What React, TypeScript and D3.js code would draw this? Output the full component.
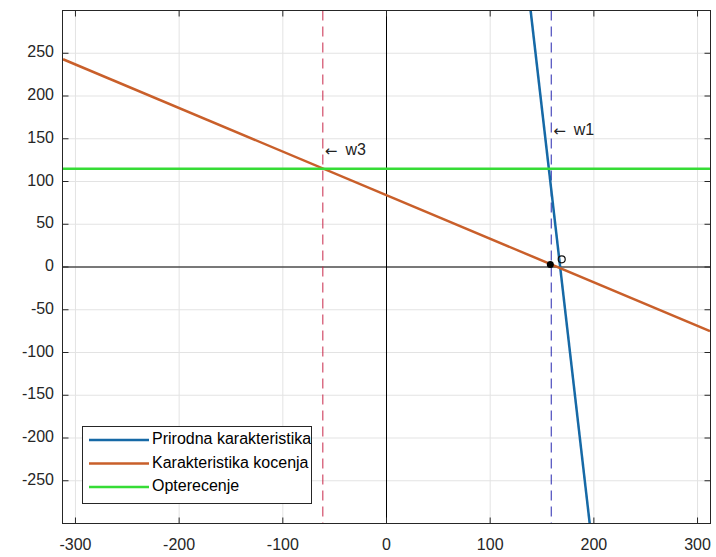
import React from "react";
import * as d3 from "d3";

// values
const xTicks = [-300, -200, -100, 0, 100, 200, 300];
const yTicks = [-250, -200, -150, -100, -50, 0, 50, 100, 150, 200, 250];

const prirodnaX = [139, 196];
const prirodnaY = [300, -300];
const kocenjaX = [-312, 312];
const kocenjaY = [243, -75];
const opterecenjeX = [-312, 312];
const opterecenjeY = [115, 115];

const w1 = 158.9;
const w3 = -61.4;
const workPoint = [158, 3];
const openPoint = [169, 9];

const legendLabels = ["Prirodna karakteristika", "Karakteristika kocenja", "Opterecenje"];
const colors = ["#1669a6", "#c95f2a", "#36dc36"];

const W = 716, H = 557;
const left = 62.5, right = 710.5, top = 10.5, bottom = 523.5;
const font = "'Liberation Sans', Arial, sans-serif";

export default function App() {
  const x = d3.scaleLinear().domain([-312.5, 312.5]).range([left, right]);
  const y = d3.scaleLinear().domain([-300, 300]).range([bottom, top]);

  const line = d3.line<[number, number]>().x((d) => x(d[0])).y((d) => y(d[1]));
  const zip = (xs: number[], ys: number[]) => xs.map((v, i) => [v, ys[i]] as [number, number]);

  const series = [
    zip(prirodnaX, prirodnaY),
    zip(kocenjaX, kocenjaY),
    zip(opterecenjeX, opterecenjeY),
  ];
  const axisColor = "#262626";

  const note = (label: string, px: number, py: number) => (
    <text x={px} y={py} dominantBaseline="middle" fontFamily={font} fontSize={16} fill="#222">
      <tspan fontFamily="'DejaVu Sans', sans-serif" fontSize={15}>{"\u2190"}</tspan>
      <tspan dx={8}>{label}</tspan>
    </text>
  );

  return (
    <svg width={W} height={H} style={{ position: "absolute", left: 0, top: 0, background: "#fff" }}>
      <defs>
        <clipPath id="plot">
          <rect x={left} y={top} width={right - left} height={bottom - top} />
        </clipPath>
      </defs>
      <rect x={left} y={top} width={right - left} height={bottom - top} fill="#fff" />
      {/* grid */}
      {xTicks.map((t) => (
        <line key={"gx" + t} x1={x(t)} x2={x(t)} y1={top} y2={bottom} stroke="#e3e3e3" />
      ))}
      {yTicks.map((t) => (
        <line key={"gy" + t} x1={left} x2={right} y1={y(t)} y2={y(t)} stroke="#e3e3e3" />
      ))}
      <g clipPath="url(#plot)">
        {/* zero lines */}
        <line x1={x(0)} x2={x(0)} y1={top} y2={bottom} stroke="#000" />
        <line x1={left} x2={right} y1={y(0)} y2={y(0)} stroke="#000" />
        {/* vertical markers */}
        <line x1={x(w3)} x2={x(w3)} y1={top} y2={bottom} stroke="#c8284a" strokeDasharray="10,6" />
        <line x1={x(w1)} x2={x(w1)} y1={top} y2={bottom} stroke="#2626b0" strokeDasharray="10,6" />
        {series.map((s, i) => (
          <path key={i} d={line(s) || ""} fill="none" stroke={colors[i]} strokeWidth={2.5} />
        ))}
        <circle cx={x(workPoint[0])} cy={y(workPoint[1])} r={3.5} fill="#000" />
        <circle cx={x(openPoint[0])} cy={y(openPoint[1])} r={3.5} fill="none" stroke="#111" strokeWidth={1.2} />
      </g>
      {/* annotations */}
      {note("w3", x(w3) + 2, 151)}
      {note("w1", x(w1) + 2, 131)}
      {/* box + ticks */}
      <rect x={left} y={top} width={right - left} height={bottom - top} fill="none" stroke={axisColor} />
      {xTicks.map((t) => (
        <g key={"tx" + t}>
          <line x1={x(t)} x2={x(t)} y1={bottom} y2={bottom - 6} stroke={axisColor} />
          <line x1={x(t)} x2={x(t)} y1={top} y2={top + 6} stroke={axisColor} />
          <text x={x(t)} y={546} textAnchor="middle" dominantBaseline="middle" fontFamily={font} fontSize={16} fill={axisColor}>
            {t}
          </text>
        </g>
      ))}
      {yTicks.map((t) => (
        <g key={"ty" + t}>
          <line x1={left} x2={left + 6} y1={y(t)} y2={y(t)} stroke={axisColor} />
          <line x1={right} x2={right - 6} y1={y(t)} y2={y(t)} stroke={axisColor} />
          <text x={54} y={y(t)} textAnchor="end" dominantBaseline="middle" fontFamily={font} fontSize={16} fill={axisColor}>
            {t}
          </text>
        </g>
      ))}
      {/* legend */}
      <rect x={82.5} y={426.5} width={229} height={77} fill="#fff" stroke={axisColor} />
      {legendLabels.map((lab, i) => (
        <g key={lab} transform={`translate(0,${440 + i * 23.5})`}>
          <line x1={89} x2={149} y1={0} y2={0} stroke={colors[i]} strokeWidth={2.5} />
          <text x={152} y={0} dominantBaseline="middle" fontFamily={font} fontSize={16} fill="#000">
            {lab}
          </text>
        </g>
      ))}
    </svg>
  );
}
